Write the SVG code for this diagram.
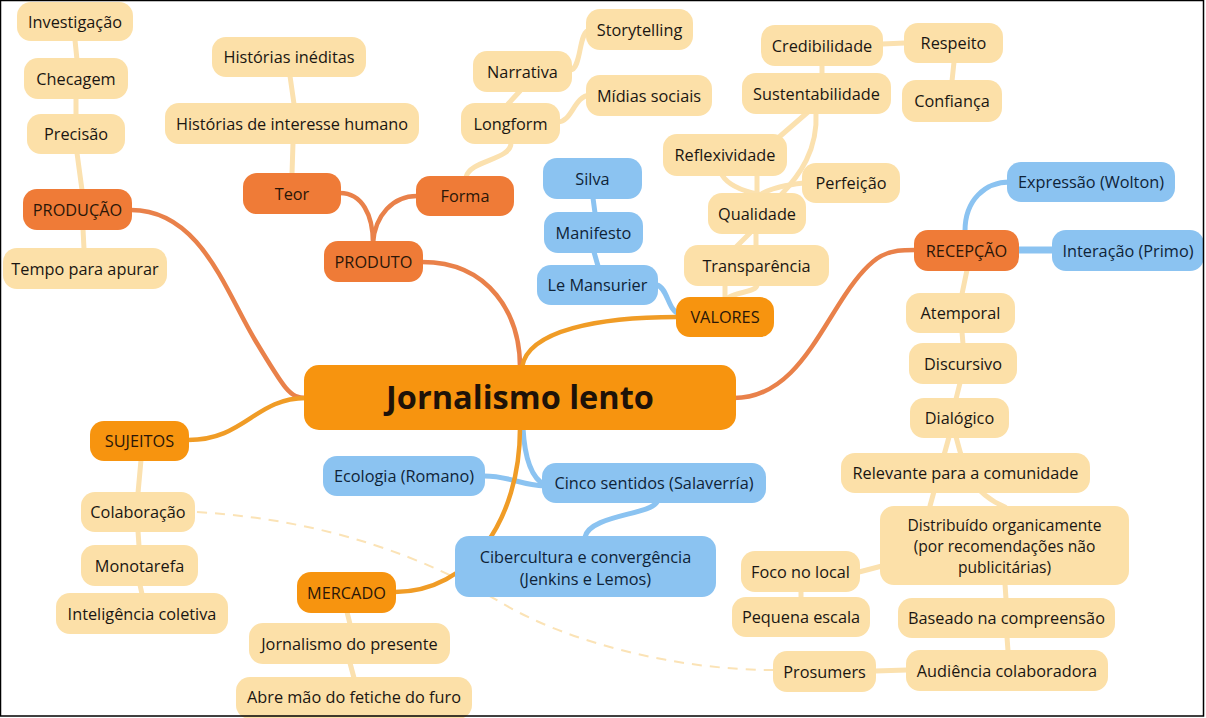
<svg xmlns="http://www.w3.org/2000/svg" width="1206" height="718" viewBox="0 0 1206 718">
<style>
text{font-family:"Open Sans","Noto Sans","Liberation Sans",sans-serif;font-size:16.3px;text-anchor:middle;fill:#1a1612}
.t rect{fill:#FCE0A8}
.o rect{fill:#EF7B37}
.a rect{fill:#F7940F}
.b rect{fill:#8BC3F1}
.b text{fill:#0f2338}
.o text,.a text{fill:#2a1608}
.ct{fill:none;stroke:#FBE1AF;stroke-width:5;stroke-linecap:round}
.cb{fill:none;stroke:#8BC3F1;stroke-width:5;stroke-linecap:round}
.co{fill:none;stroke:#E9814A;stroke-width:4.5;stroke-linecap:round}
.ca{fill:none;stroke:#F09C26;stroke-width:4.5;stroke-linecap:round}
.cd{fill:none;stroke:#FBE3B6;stroke-width:2;stroke-dasharray:10 8}
</style>
<rect x="0" y="0" width="1206" height="718" fill="#ffffff"/>
<g id="connectors">
<path class="ct" d="M75,40 L77,60"/>
<path class="ct" d="M76,98 L76,115"/>
<path class="ct" d="M77,153 L82,190"/>
<path class="ct" d="M83,229 L84,249"/>
<path class="ct" d="M290,76 L294,104"/>
<path class="ct" d="M293,143 L292,174"/>
<path class="ct" d="M520,91 L508,104"/>
<path class="ct" d="M570,70 C582,70 578,30 590,30"/>
<path class="ct" d="M558,122 C572,122 574,96 590,95"/>
<path class="ct" d="M511,143 C511,160 470,160 466,177"/>
<path class="ct" d="M822,65 L822,74"/>
<path class="ct" d="M882,44 L905,43"/>
<path class="ct" d="M954,62 L952,81"/>
<path class="ct" d="M808,112 L778,138"/>
<path class="ct" d="M816,112 C818,150 800,175 780,196"/>
<path class="ct" d="M757,175 L757,194"/>
<path class="ct" d="M722,175 C730,188 748,192 758,194"/>
<path class="ct" d="M804,183 C785,185 770,188 760,195"/>
<path class="ct" d="M750,233 L737,246"/>
<path class="ct" d="M756,233 L756,246"/>
<path class="ct" d="M725,285 L725,298"/>
<path class="ct" d="M728,298 C735,292 757,292 757,285"/>
<path class="ct" d="M967,270 L962,294"/>
<path class="ct" d="M962,332 L963,344"/>
<path class="ct" d="M960,383 L956,399"/>
<path class="ct" d="M949,437 L930,506"/>
<path class="ct" d="M956,437 C963,460 965,490 1005,507"/>
<path class="ct" d="M859,572 L882,566"/>
<path class="ct" d="M801,591 L801,598"/>
<path class="ct" d="M1005,584 L1006,599"/>
<path class="ct" d="M1007,637 L1008,651"/>
<path class="ct" d="M875,671 L907,670"/>
<path class="ct" d="M141,460 L138,493"/>
<path class="ct" d="M138,531 L139,546"/>
<path class="ct" d="M140,585 L142,594"/>
<path class="ct" d="M347,612 L350,624"/>
<path class="ct" d="M350,663 L354,678"/>
<path class="cd" d="M197,512 C330,520 430,560 500,602 S680,670 773,670"/>
<path class="cb" d="M593,198 L595,213"/>
<path class="cb" d="M594,252 L598,266"/>
<path class="cb" d="M657,285 C668,288 668,312 680,314"/>
<path class="cb" d="M965,231 C965,200 985,182 1010,182"/>
<path class="cb" d="M1018,250 L1053,250" style="stroke-width:7"/>
<path class="cb" d="M523,428 C525,465 535,480 545,485"/>
<path class="cb" d="M484,476 C510,476 520,485 545,486"/>
<path class="cb" d="M657,502 C650,515 590,515 585,537"/>
<path class="co" d="M131,210 C200,210 225,290 255,340 S290,398 306,398"/>
<path class="ca" d="M188,440 C245,440 255,398 306,398"/>
<path class="co" d="M422,262 C490,262 520,315 520,367"/>
<path class="co" d="M340,193 C362,193 373,215 373,243"/>
<path class="co" d="M417,196 C393,196 375,215 373,243"/>
<path class="ca" d="M522,367 C528,330 600,317 677,317"/>
<path class="co" d="M734,398 C790,398 815,340 845,295 S890,250 915,250"/>
<path class="ca" d="M520,428 C520,520 470,592 395,592"/>
</g>
<g id="n-investigacao" class="t"><rect x="17" y="2" width="116" height="39" rx="14"/><text x="75" y="27.5">Investigação</text></g>
<g id="n-checagem" class="t"><rect x="24" y="58" width="104" height="41" rx="14"/><text x="76" y="84.5">Checagem</text></g>
<g id="n-precisao" class="t"><rect x="27" y="114" width="98" height="40" rx="14"/><text x="76" y="140">Precisão</text></g>
<g id="n-producao" class="o"><rect x="23" y="189" width="109" height="41" rx="14"/><text x="77.5" y="215.5">PRODUÇÃO</text></g>
<g id="n-tempo" class="t"><rect x="3" y="248" width="164" height="41" rx="14"/><text x="85" y="274.5">Tempo para apurar</text></g>
<g id="n-ineditas" class="t"><rect x="212" y="37" width="154" height="40" rx="14"/><text x="289" y="63">Histórias inéditas</text></g>
<g id="n-interesse" class="t"><rect x="165" y="103" width="254" height="41" rx="14"/><text x="292" y="129.5">Histórias de interesse humano</text></g>
<g id="n-teor" class="o"><rect x="243" y="173" width="98" height="41" rx="14"/><text x="292" y="199.5">Teor</text></g>
<g id="n-produto" class="o"><rect x="324" y="241" width="99" height="41" rx="14"/><text x="373.5" y="267.5">PRODUTO</text></g>
<g id="n-forma" class="o"><rect x="416" y="176" width="98" height="40" rx="14"/><text x="465" y="202">Forma</text></g>
<g id="n-narrativa" class="t"><rect x="473" y="51" width="99" height="41" rx="14"/><text x="522.5" y="77.5">Narrativa</text></g>
<g id="n-storytelling" class="t"><rect x="586" y="9" width="107" height="41" rx="14"/><text x="639.5" y="35.5">Storytelling</text></g>
<g id="n-longform" class="t"><rect x="461" y="103" width="99" height="41" rx="14"/><text x="510.5" y="129.5">Longform</text></g>
<g id="n-midias" class="t"><rect x="586" y="75" width="126" height="41" rx="14"/><text x="649" y="101.5">Mídias sociais</text></g>
<g id="n-credibilidade" class="t"><rect x="761" y="25" width="122" height="41" rx="14"/><text x="822" y="51.5">Credibilidade</text></g>
<g id="n-sustentabilidade" class="t"><rect x="742" y="73" width="149" height="41" rx="14"/><text x="816.5" y="99.5">Sustentabilidade</text></g>
<g id="n-respeito" class="t"><rect x="904" y="23" width="99" height="40" rx="14"/><text x="953.5" y="49">Respeito</text></g>
<g id="n-confianca" class="t"><rect x="902" y="80" width="100" height="42" rx="14"/><text x="952" y="107">Confiança</text></g>
<g id="n-reflexividade" class="t"><rect x="663" y="134" width="124" height="42" rx="14"/><text x="725" y="161">Reflexividade</text></g>
<g id="n-perfeicao" class="t"><rect x="802" y="163" width="98" height="40" rx="14"/><text x="851" y="189">Perfeição</text></g>
<g id="n-qualidade" class="t"><rect x="708" y="193" width="98" height="41" rx="14"/><text x="757" y="219.5">Qualidade</text></g>
<g id="n-transparencia" class="t"><rect x="684" y="245" width="145" height="41" rx="14"/><text x="756.5" y="271.5">Transparência</text></g>
<g id="n-valores" class="a"><rect x="676" y="297" width="98" height="40" rx="14"/><text x="725" y="323">VALORES</text></g>
<g id="n-silva" class="b"><rect x="543" y="158" width="99" height="41" rx="14"/><text x="592.5" y="184.5">Silva</text></g>
<g id="n-manifesto" class="b"><rect x="544" y="212" width="99" height="41" rx="14"/><text x="593.5" y="238.5">Manifesto</text></g>
<g id="n-mansurier" class="b"><rect x="537" y="265" width="121" height="40" rx="14"/><text x="597.5" y="291">Le Mansurier</text></g>
<g id="n-recepcao" class="o"><rect x="914" y="230" width="105" height="41" rx="14"/><text x="966.5" y="256.5">RECEPÇÃO</text></g>
<g id="n-expressao" class="b"><rect x="1007" y="162" width="168" height="40" rx="14"/><text x="1091" y="188">Expressão (Wolton)</text></g>
<g id="n-interacao" class="b"><rect x="1052" y="230" width="152" height="41" rx="14"/><text x="1128" y="256.5">Interação (Primo)</text></g>
<g id="n-atemporal" class="t"><rect x="906" y="293" width="109" height="40" rx="14"/><text x="960.5" y="319">Atemporal</text></g>
<g id="n-discursivo" class="t"><rect x="909" y="343" width="108" height="41" rx="14"/><text x="963" y="369.5">Discursivo</text></g>
<g id="n-dialogico" class="t"><rect x="910" y="398" width="99" height="40" rx="14"/><text x="959.5" y="424">Dialógico</text></g>
<g id="n-relevante" class="t"><rect x="841" y="453" width="249" height="40" rx="14"/><text x="965.5" y="479">Relevante para a comunidade</text></g>
<g id="n-distribuido" class="t"><rect x="880" y="506" width="249" height="79" rx="14"/><text x="1004.5" y="530.5" style="font-size:15.6px">Distribuído organicamente</text><text x="1004.5" y="551.7" style="font-size:15.6px">(por recomendações não</text><text x="1004.5" y="572.9" style="font-size:15.6px">publicitárias)</text></g>
<g id="n-baseado" class="t"><rect x="898" y="598" width="217" height="40" rx="14"/><text x="1006.5" y="624">Baseado na compreensão</text></g>
<g id="n-audiencia" class="t"><rect x="906" y="650" width="202" height="41" rx="14"/><text x="1007" y="676.5">Audiência colaboradora</text></g>
<g id="n-foco" class="t"><rect x="741" y="551" width="119" height="41" rx="14"/><text x="800.5" y="577.5">Foco no local</text></g>
<g id="n-pequena" class="t"><rect x="732" y="597" width="138" height="40" rx="14"/><text x="801" y="623">Pequena escala</text></g>
<g id="n-prosumers" class="t"><rect x="773" y="651" width="103" height="41" rx="14"/><text x="824.5" y="677.5">Prosumers</text></g>
<g id="n-sujeitos" class="a"><rect x="90" y="421" width="99" height="40" rx="14"/><text x="139.5" y="447">SUJEITOS</text></g>
<g id="n-colaboracao" class="t"><rect x="81" y="492" width="114" height="40" rx="14"/><text x="138" y="518">Colaboração</text></g>
<g id="n-monotarefa" class="t"><rect x="81" y="545" width="117" height="41" rx="14"/><text x="139.5" y="571.5">Monotarefa</text></g>
<g id="n-inteligencia" class="t"><rect x="56" y="593" width="172" height="41" rx="14"/><text x="142" y="619.5">Inteligência coletiva</text></g>
<g id="n-mercado" class="a"><rect x="297" y="572" width="99" height="41" rx="14"/><text x="346.5" y="598.5">MERCADO</text></g>
<g id="n-presente" class="t"><rect x="249" y="623" width="201" height="41" rx="14"/><text x="349.5" y="649.5">Jornalismo do presente</text></g>
<g id="n-abre" class="t"><rect x="236" y="677" width="236" height="42" rx="14"/><text x="354" y="702.5">Abre mão do fetiche do furo</text></g>
<g id="n-ecologia" class="b"><rect x="323" y="456" width="162" height="40" rx="14"/><text x="404" y="482">Ecologia (Romano)</text></g>
<g id="n-cinco" class="b"><rect x="542" y="463" width="224" height="40" rx="14"/><text x="654" y="489">Cinco sentidos (Salaverría)</text></g>
<g id="n-cibercultura" class="b"><rect x="455" y="536" width="261" height="61" rx="14"/><text x="585.5" y="562.5">Cibercultura e convergência</text><text x="585.5" y="584.5">(Jenkins e Lemos)</text></g>
<g id="n-center" class="a"><rect x="304" y="365" width="432" height="65" rx="15"/><text x="520" y="409" style="font-size:32.5px;font-weight:bold;fill:#1e1208">Jornalismo lento</text></g>
<rect x="0.5" y="0.5" width="1203" height="715.5" fill="none" stroke="#000" stroke-width="1.5"/>
</svg>
